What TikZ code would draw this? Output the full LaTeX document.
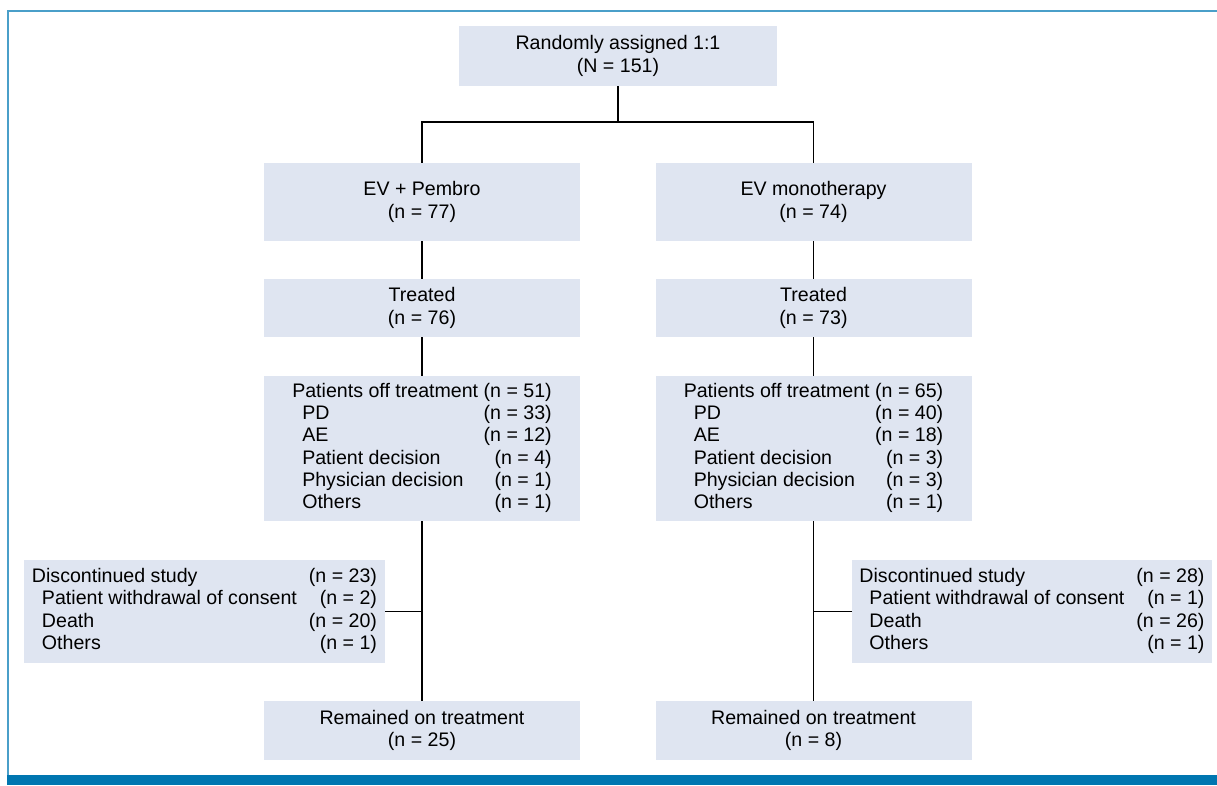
\documentclass[tikz,border=0pt]{standalone}
\usepackage{fontspec}
\setmainfont{Liberation Sans}
\usepackage{tikz}
\usetikzlibrary{positioning}
\definecolor{boxfill}{HTML}{DFE5F1}
\definecolor{frameline}{HTML}{4A9FC9}
\definecolor{framebar}{HTML}{0076B0}
\tikzset{basic/.style={fill=boxfill,inner sep=0pt,outer sep=0pt,align=center,
                       font=\fontsize{19.6}{22.2}\selectfont}}
\tikzset{arm/.style={basic,minimum width=316pt}}
\newcommand{\ind}{\hspace*{10pt}}

\begin{document}
\begin{tikzpicture}[x=1pt,y=-1pt,line width=1.6pt]
  % one unit is one pixel of the 1217 x 785 page
  \tikzstyle{twoline}=[arm,minimum height=59pt]
  \tikzstyle{sidebox}=[basic,minimum width=361pt,minimum height=103pt]
  \useasboundingbox (0,0) rectangle (1217,785);

  % Frame: thin line left and top, thick bar at the bottom
  \draw[frameline,line width=2.5pt] (8,775) -- (8,11) -- (1217,11);
  \fill[framebar] (6.75,775) rectangle (1217,785);

  % Randomisation and the two arms
  \node (rand) [basic,minimum width=318pt,minimum height=60pt] at (618,56)
        {Randomly assigned 1:1\\(N = 151)};
  \node (evp) [arm,minimum height=78pt] at (422,202) {EV + Pembro\\(n = 77)};
  \node (evm) [arm,minimum height=78pt] at (813.5,202) {EV monotherapy\\(n = 74)};

  % Left arm
  \node (trt_p) [twoline,minimum height=58pt,below=38pt of evp] {Treated\\(n = 76)};
  \node (off_p) [arm,minimum height=145pt,below=39pt of trt_p] {%
    \begin{tabular}{@{}l@{\hspace{20pt}}r@{}}
      \multicolumn{2}{@{}l@{}}{Patients off treatment (n = 51)}\\
      \ind PD & (n = 33)\\
      \ind AE & (n = 12)\\
      \ind Patient decision & (n = 4)\\
      \ind Physician decision & (n = 1)\\
      \ind Others & (n = 1)
    \end{tabular}};
  \node (rem_p) [twoline,below=180pt of off_p] {Remained on treatment\\(n = 25)};
  \node (disc_p) [sidebox] at (204.5,611.5) {%
    \begin{tabular}{@{}l@{\hspace{12pt}}r@{}}
      Discontinued study & (n = 23)\\
      \ind Patient withdrawal of consent & (n = 2)\\
      \ind Death & (n = 20)\\
      \ind Others & (n = 1)
    \end{tabular}};

  % Right arm
  \node (trt_m) [twoline,minimum height=58pt,below=38pt of evm] {Treated\\(n = 73)};
  \node (off_m) [arm,minimum height=145pt,below=39pt of trt_m] {%
    \begin{tabular}{@{}l@{\hspace{20pt}}r@{}}
      \multicolumn{2}{@{}l@{}}{Patients off treatment (n = 65)}\\
      \ind PD & (n = 40)\\
      \ind AE & (n = 18)\\
      \ind Patient decision & (n = 3)\\
      \ind Physician decision & (n = 3)\\
      \ind Others & (n = 1)
    \end{tabular}};
  \node (rem_m) [twoline,below=180pt of off_m] {Remained on treatment\\(n = 8)};
  \node (disc_m) [sidebox,minimum width=360pt] at (1032,611.5) {%
    \begin{tabular}{@{}l@{\hspace{12pt}}r@{}}
      Discontinued study & (n = 28)\\
      \ind Patient withdrawal of consent & (n = 1)\\
      \ind Death & (n = 26)\\
      \ind Others & (n = 1)
    \end{tabular}};

  % Connectors
  \coordinate (split) at (618,122);
  \draw (rand) -- (split);
  \draw (split) -| (evp);
  \draw (split) -| (evm);
  \path[draw]
      (evp) edge (trt_p)
      (trt_p) edge (off_p)
      (off_p) edge (rem_p)
      (evm) edge (trt_m)
      (trt_m) edge (off_m)
      (off_m) edge (rem_m)
      (disc_p.east) edge (disc_p.east -| off_p.south)
      (disc_m.west) edge (disc_m.west -| off_m.south)
      ;
\end{tikzpicture}
\end{document}
